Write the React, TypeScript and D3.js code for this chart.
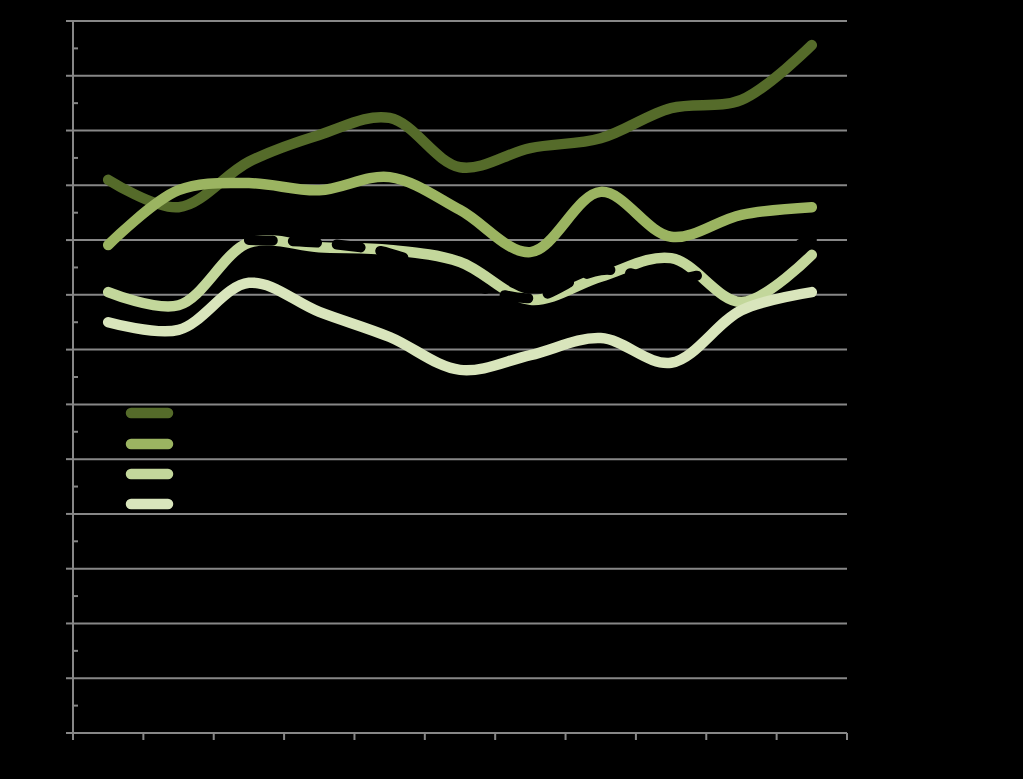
import React, { useEffect, useRef } from "react";
import * as d3 from "d3";

// categories along the x axis (labels are not shown in the chart)
const categories = ["1", "2", "3", "4", "5", "6", "7", "8", "9", "10", "11"];

// series values
const series1 = [101.0, 96.0, 104.3, 109.2, 112.3, 103.3, 106.8, 108.6, 114.1, 115.6, 125.6];
const series2 = [89.1, 99.1, 100.4, 99.1, 101.5, 95.5, 87.8, 98.8, 90.6, 94.6, 96.0];
const series3 = [80.5, 78.1, 89.5, 88.7, 88.2, 86.0, 79.1, 83.3, 86.7, 78.7, 87.3];
const series4 = [75.0, 73.6, 82.2, 76.9, 72.3, 66.3, 69.0, 72.1, 67.6, 77.2, 80.5];
// black dashed series, only visible where it crosses the others
const series5: (number | null)[] = [null, null, 90.0, 89.5, 87.6, 82.7, 79.4, 84.5, 82.7, 86.0, 90.0];

const seriesColors = ["#556B2A", "#9BB461", "#C3D79B", "#D9E5BC"];

const yMax = 130;
const yMajorStep = 10;
const yMinorStep = 5;

const App: React.FC = () => {
  const chartRef = useRef<HTMLDivElement>(null);

  useEffect(() => {
    document.body.style.margin = "0";
    document.body.style.background = "#000";
    const container = chartRef.current;
    if (!container) return;

    const width = 1023;
    const height = 779;
    const plot = { left: 73, right: 847, top: 21, bottom: 733 };
    const gridColor = "#878787";

    const root = d3.select(container);
    root.selectAll("*").remove();

    const svg = root
      .append("svg")
      .attr("width", width)
      .attr("height", height)
      .style("display", "block")
      .style("background", "#000");

    const xScale = d3
      .scaleBand<string>()
      .domain(categories)
      .range([plot.left, plot.right]);
    const xc = (c: string) => (xScale(c) || 0) + xScale.bandwidth() / 2;

    const yScale = d3
      .scaleLinear()
      .domain([0, yMax])
      .range([plot.bottom, plot.top]);

    const majorTicks = d3.range(0, yMax + 0.001, yMajorStep);
    const minorTicks = d3.range(yMinorStep, yMax, yMajorStep);

    // gridlines
    svg
      .append("g")
      .selectAll("line")
      .data(majorTicks.filter((t) => t > 0))
      .join("line")
      .attr("x1", plot.left)
      .attr("x2", plot.right)
      .attr("y1", (d) => yScale(d))
      .attr("y2", (d) => yScale(d))
      .attr("stroke", gridColor)
      .attr("stroke-width", 2);

    // y axis
    const yAxis = svg.append("g");
    yAxis
      .append("line")
      .attr("x1", plot.left)
      .attr("x2", plot.left)
      .attr("y1", plot.top)
      .attr("y2", plot.bottom)
      .attr("stroke", gridColor)
      .attr("stroke-width", 2);
    yAxis
      .selectAll(".major")
      .data(majorTicks)
      .join("line")
      .attr("class", "major")
      .attr("x1", plot.left - 7)
      .attr("x2", plot.left)
      .attr("y1", (d) => yScale(d))
      .attr("y2", (d) => yScale(d))
      .attr("stroke", gridColor)
      .attr("stroke-width", 2);
    yAxis
      .selectAll(".minor")
      .data(minorTicks)
      .join("line")
      .attr("class", "minor")
      .attr("x1", plot.left)
      .attr("x2", plot.left + 5)
      .attr("y1", (d) => yScale(d))
      .attr("y2", (d) => yScale(d))
      .attr("stroke", gridColor)
      .attr("stroke-width", 2);

    // x axis
    const xAxis = svg.append("g");
    xAxis
      .append("line")
      .attr("x1", plot.left - 7)
      .attr("x2", plot.right)
      .attr("y1", plot.bottom)
      .attr("y2", plot.bottom)
      .attr("stroke", gridColor)
      .attr("stroke-width", 2);
    const boundaries = categories
      .map((c) => xScale(c) || 0)
      .concat([plot.right]);
    xAxis
      .selectAll(".xtick")
      .data(boundaries)
      .join("line")
      .attr("class", "xtick")
      .attr("x1", (d) => d)
      .attr("x2", (d) => d)
      .attr("y1", plot.bottom)
      .attr("y2", plot.bottom + 7)
      .attr("stroke", gridColor)
      .attr("stroke-width", 2);

    // lines
    const lineGenerator = d3
      .line<[string, number | null]>()
      .defined((d) => d[1] !== null)
      .x((d) => xc(d[0]))
      .y((d) => yScale(d[1] as number))
      .curve(d3.curveCatmullRom.alpha(0.5));

    const allSeries = [series1, series2, series3, series4];
    allSeries.forEach((values, i) => {
      svg
        .append("path")
        .datum(categories.map((c, j) => [c, values[j]] as [string, number | null]))
        .attr("fill", "none")
        .attr("stroke", seriesColors[i])
        .attr("stroke-width", 10.5)
        .attr("stroke-linecap", "round")
        .attr("stroke-linejoin", "round")
        .attr("d", lineGenerator);
    });

    svg
      .append("path")
      .datum(categories.map((c, j) => [c, series5[j]] as [string, number | null]))
      .attr("fill", "none")
      .attr("stroke", "#000")
      .attr("stroke-width", 10)
      .attr("stroke-linecap", "round")
      .attr("stroke-dasharray", "24,20")
      .attr("d", lineGenerator);

    // legend swatches
    const legendY = [413, 444, 474, 504];
    svg
      .append("g")
      .selectAll("line")
      .data(seriesColors)
      .join("line")
      .attr("x1", 131)
      .attr("x2", 168)
      .attr("y1", (_, i) => legendY[i])
      .attr("y2", (_, i) => legendY[i])
      .attr("stroke", (d) => d)
      .attr("stroke-width", 10.5)
      .attr("stroke-linecap", "round");
  }, []);

  return <div ref={chartRef}></div>;
};

export default App;
